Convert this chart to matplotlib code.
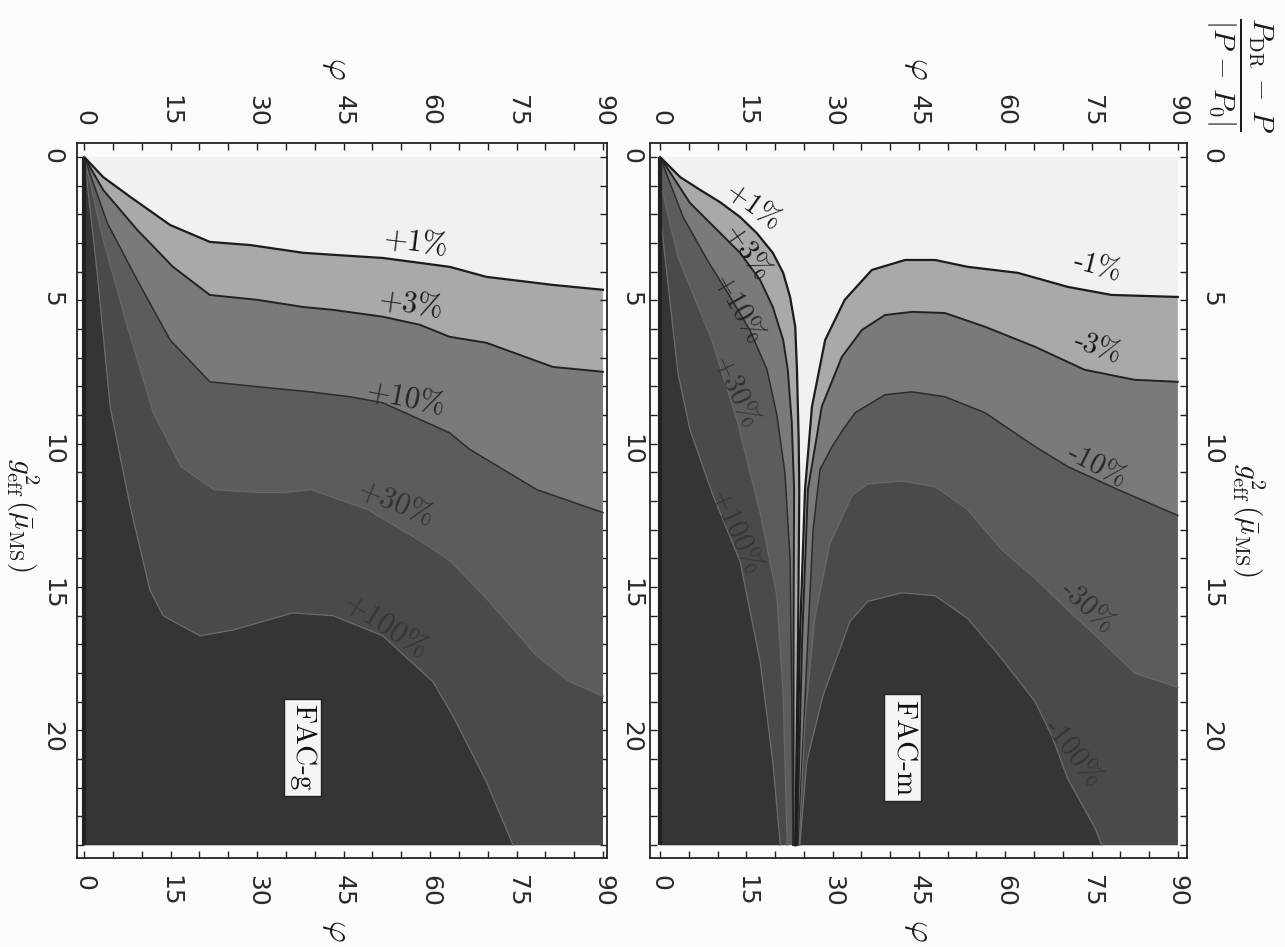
import numpy as np
import matplotlib
matplotlib.use("Agg")
import matplotlib.pyplot as plt

plt.rcParams["mathtext.fontset"] = "cm"

W, H = 1285, 947

# ---------------- data ----------------
PHI_MAX = 90
G2_MAX = 24
PHI_TICKS = [0, 15, 30, 45, 60, 75, 90]
G2_TICKS = [0, 5, 10, 15, 20]

BAND_COLORS = ["#a9a9a9", "#7a7a7a", "#5c5c5c", "#4a4a4a", "#353535"]
LINE_COLORS = ["#1c1c1c", "#222222", "#2c2c2c", "#686868", "#6c6c6c"]
LINE_WIDTHS = [1.6, 1.4, 1.1, 0.9, 0.9]

# FAC-g panel (left): contour curves g2_eff(phi)
FACG_P1_PHI = [0, 3.3, 8.0, 14.9, 21.8, 28.8, 38.0, 43.2, 51.8, 58.2, 63.4, 69.8, 81.3, 90]
FACG_P1_G2 = [0, 0.70, 1.39, 2.37, 2.96, 3.07, 3.34, 3.41, 3.52, 3.69, 3.83, 4.18, 4.46, 4.63]
FACG_P3_PHI = [0, 3.3, 9.2, 15.4, 21.8, 30.0, 38.0, 43.2, 51.8, 58.2, 63.4, 69.8, 81.3, 90]
FACG_P3_G2 = [0, 1.15, 2.54, 3.83, 4.81, 4.98, 5.23, 5.33, 5.57, 5.85, 6.27, 6.48, 7.32, 7.49]
FACG_P10_PHI = [0, 4.0, 9.2, 14.9, 21.8, 30.0, 39.2, 46.1, 51.8, 63.4, 66.9, 78.5, 90]
FACG_P10_G2 = [0, 2.30, 4.29, 6.38, 7.84, 8.01, 8.19, 8.36, 8.57, 9.62, 10.2, 11.6, 12.4]
FACG_P30_PHI = [0, 3.3, 7.5, 12.0, 16.8, 22.5, 30.2, 34.7, 39.4, 49.2, 58.4, 63.6, 69.8, 78.5, 84.2, 90]
FACG_P30_G2 = [0, 2.89, 5.92, 8.92, 10.8, 11.6, 11.7, 11.7, 11.6, 12.3, 13.4, 14.1, 15.4, 17.4, 18.3, 18.8]
FACG_P100_PHI = [0, 2.25, 4.5, 8.0, 11.4, 13.7, 20.1, 25.8, 36.2, 43.2, 51.8, 60.5, 64.0, 69.8, 74.4]
FACG_P100_G2 = [0, 4.04, 8.71, 12.2, 15.1, 16.0, 16.7, 16.5, 15.9, 16.0, 16.7, 18.3, 19.5, 21.8, 24.0]

# FAC-m panel (right): positive branch (small phi)
FACM_P1_PHI = [0, 3.5, 7.0, 10.4, 13.9, 16.8, 19.6, 21.4, 22.6, 23.5, 23.8, 24.1, 24.2, 24.0, 23.5]
FACM_P1_G2 = [0, 0.70, 1.15, 1.57, 2.09, 2.65, 3.34, 4.04, 4.88, 5.92, 7.42, 9.9, 11.6, 16.8, 24.0]
FACM_P3_PHI = [0, 5.2, 9.9, 13.9, 17.4, 19.6, 21.4, 22.2, 22.9, 23.3, 23.2, 23.2]
FACM_P3_G2 = [0, 1.6, 2.54, 3.34, 4.29, 5.23, 6.38, 7.42, 9.27, 11.6, 16.8, 24.0]
FACM_P10_PHI = [0, 4.0, 8.2, 12.2, 15.6, 18.6, 20.3, 21.7, 22.6, 22.9, 23.1]
FACM_P10_G2 = [0, 2.09, 3.59, 4.88, 6.03, 7.42, 9.0, 11.0, 14.0, 18.9, 24.0]
FACM_P30_PHI = [0, 0.35, 3.1, 9.0, 13.4, 17.4, 20.3, 21.4, 22.1]
FACM_P30_G2 = [0, 1.15, 3.48, 6.38, 9.2, 12.4, 15.3, 18.8, 24.0]
FACM_P100_PHI = [0, 0.2, 3.1, 5.2, 9.2, 13.9, 17.4, 19.6, 20.9]
FACM_P100_G2 = [0, 2.3, 7.53, 9.51, 11.8, 14.1, 17.6, 21.1, 24.0]

# FAC-m panel (right): negative branch (large phi)
FACM_M1_PHI = [23.6, 24.3, 25.2, 26.4, 28.7, 32.1, 36.8, 42.6, 47.8, 53.5, 62.2, 70.9, 78.5, 90]
FACM_M1_G2 = [24.0, 16.8, 11.6, 8.71, 6.38, 4.98, 3.94, 3.59, 3.59, 3.83, 4.04, 4.53, 4.81, 4.88]
FACM_M3_PHI = [23.8, 24.7, 25.7, 28.1, 31.6, 35.1, 39.1, 43.8, 49.5, 56.5, 65.2, 73.8, 82.5, 90]
FACM_M3_G2 = [24.0, 16.8, 11.6, 8.71, 6.97, 6.03, 5.51, 5.40, 5.44, 5.92, 6.62, 7.42, 7.77, 7.84]
FACM_M10_PHI = [24.0, 25.5, 26.6, 27.8, 29.9, 31.8, 33.9, 39.1, 43.8, 49.5, 56.5, 65.2, 70.9, 79.6, 90]
FACM_M10_G2 = [24.0, 17.6, 13.0, 10.9, 10.1, 9.51, 8.92, 8.29, 8.19, 8.36, 8.92, 10.1, 10.8, 11.6, 12.5]
FACM_M30_PHI = [24.2, 25.2, 26.9, 29.5, 33.4, 36.1, 42.1, 47.8, 53.5, 59.4, 65.2, 70.9, 76.8, 82.5, 90]
FACM_M30_G2 = [24.0, 19.6, 16.1, 13.5, 11.8, 11.4, 11.3, 11.5, 12.3, 13.7, 14.7, 15.8, 16.9, 18.0, 18.5]
FACM_M100_PHI = [24.3, 25.5, 28.3, 33.0, 36.1, 42.1, 47.8, 53.5, 59.4, 65.2, 68.1, 70.9, 75.6, 76.8]
FACM_M100_G2 = [24.0, 21.1, 18.8, 16.2, 15.5, 15.2, 15.3, 16.1, 17.5, 19.0, 20.2, 21.7, 23.4, 24.0]

FACG_CURVES = [(FACG_P1_PHI, FACG_P1_G2), (FACG_P3_PHI, FACG_P3_G2), (FACG_P10_PHI, FACG_P10_G2),
               (FACG_P30_PHI, FACG_P30_G2), (FACG_P100_PHI, FACG_P100_G2)]
FACM_POS = [(FACM_P1_PHI, FACM_P1_G2), (FACM_P3_PHI, FACM_P3_G2), (FACM_P10_PHI, FACM_P10_G2),
            (FACM_P30_PHI, FACM_P30_G2), (FACM_P100_PHI, FACM_P100_G2)]
FACM_NEG = [(FACM_M1_PHI, FACM_M1_G2), (FACM_M3_PHI, FACM_M3_G2), (FACM_M10_PHI, FACM_M10_G2),
            (FACM_M30_PHI, FACM_M30_G2), (FACM_M100_PHI, FACM_M100_G2)]

# contour labels: text, phi, g2, rotation
FACG_LABELS = [("+1%", 57.5, 3.0, -7), ("+3%", 56.7, 5.15, -8), ("+10%", 55.8, 8.45, -11),
               ("+30%", 53.9, 12.1, -22), ("+100%", 52.2, 16.4, -33)]
FACM_POS_LABELS = [("+1%", 16.2, 1.74, -35), ("+3%", 15.1, 3.34, -55), ("+10%", 13.5, 5.33, -60),
                   ("+30%", 13.0, 8.22, -65), ("+100%", 13.0, 13.1, -65)]
FACM_NEG_LABELS = [("-1%", 76.1, 3.83, -14), ("-3%", 76.1, 6.66, -18), ("-10%", 75.9, 10.8, -27),
                   ("-30%", 74.2, 15.7, -42), ("-100%", 71.8, 20.8, -52)]
LABEL_COLORS = ["#111111", "#1a1a1a", "#262626", "#333333", "#363636"]

PANEL_NAMES = ["FAC-g", "FAC-m"]

# ---------------- figure ----------------
fig = plt.figure(figsize=(W / 100, H / 100), dpi=100, facecolor="#fbfbfb")


def px_axes(x0, x1, y0, y1):
    return fig.add_axes([x0 / W, 1 - y1 / H, (x1 - x0) / W, (y1 - y0) / H])


axL = px_axes(77, 607, 143, 858)
axR = px_axes(650, 1187, 143, 858)
axL.set_xlim(-1.25, 90.7)
axR.set_xlim(-1.75, 91.6)
for ax in (axL, axR):
    ax.set_ylim(24.45, -0.49)
    ax.set_facecolor("#fbfbfb")
    ax.fill_between([0, PHI_MAX], 0, G2_MAX, color="#f1f1f1", lw=0, zorder=0)


def poly_left(phi, g2):
    xs, ys = list(phi), list(g2)
    if xs[-1] >= PHI_MAX:
        xs.append(PHI_MAX); ys.append(G2_MAX)
    xs.append(0); ys.append(G2_MAX)
    return xs, ys


def poly_right(phi, g2):
    xs, ys = list(phi), list(g2)
    if xs[-1] >= PHI_MAX:
        xs.append(PHI_MAX); ys.append(G2_MAX)
    return xs, ys


# FAC-g fills
for k, (phi, g2) in enumerate(FACG_CURVES):
    xs, ys = poly_left(phi, g2)
    axL.fill(xs, ys, color=BAND_COLORS[k], lw=0, zorder=1 + k)
for k, (phi, g2) in enumerate(FACG_CURVES):
    axL.plot(phi, g2, color=LINE_COLORS[k], lw=LINE_WIDTHS[k], zorder=10,
             solid_joinstyle="round")

# FAC-m fills
for k in range(5):
    xs, ys = poly_left(*FACM_POS[k])
    axR.fill(xs, ys, color=BAND_COLORS[k], lw=0, zorder=1 + k)
    xs, ys = poly_right(*FACM_NEG[k])
    axR.fill(xs, ys, color=BAND_COLORS[k], lw=0, zorder=1 + k)
for k in range(5):
    axR.plot(*FACM_POS[k], color=LINE_COLORS[k], lw=LINE_WIDTHS[k], zorder=10,
             solid_joinstyle="round")
    axR.plot(*FACM_NEG[k], color=LINE_COLORS[k], lw=LINE_WIDTHS[k], zorder=10,
             solid_joinstyle="round")

# darker strip along phi = 0
for ax in (axL, axR):
    ax.plot([0, 0], [0, G2_MAX], color="#222222", lw=3, zorder=11, solid_capstyle="butt")

# contour labels
for k, (t, p, g, r) in enumerate(FACG_LABELS):
    axL.text(p, g, t, rotation=r, ha="center", va="center", fontsize=22,
             family="cmr10", color=LABEL_COLORS[k], zorder=12)
for k, (t, p, g, r) in enumerate(FACM_POS_LABELS):
    axR.text(p, g, t, rotation=r, ha="center", va="center", fontsize=21,
             family="cmr10", color=LABEL_COLORS[k], zorder=12, rotation_mode="anchor")
for k, (t, p, g, r) in enumerate(FACM_NEG_LABELS):
    axR.text(p, g, t, rotation=r, ha="center", va="center", fontsize=21,
             family="cmr10", color=LABEL_COLORS[k], zorder=12)

# panel name boxes
axL.text(37.8, 20.6, PANEL_NAMES[0], rotation=-90, ha="center", va="center", fontsize=21,
         family="cmr10", color="#111111", zorder=15,
         bbox=dict(boxstyle="square,pad=0.18", fc="#f4f4f4", ec="#222222", lw=1.0))
axR.text(42.2, 20.6, PANEL_NAMES[1], rotation=-90, ha="center", va="center", fontsize=21,
         family="cmr10", color="#111111", zorder=15,
         bbox=dict(boxstyle="square,pad=0.18", fc="#f4f4f4", ec="#222222", lw=1.0))

# axes styling
for ax in (axL, axR):
    ax.set_xticks(PHI_TICKS)
    ax.set_xticks(np.arange(0, PHI_MAX + 1, 5), minor=True)
    ax.set_yticks(G2_TICKS)
    ax.set_yticks(np.arange(0, G2_MAX + 1, 1), minor=True)
    ax.tick_params(which="both", direction="in", top=True, bottom=True, left=True, right=True,
                   length=5, width=1.0, color="#222222")
    ax.tick_params(axis="x", labeltop=True, labelbottom=True, labelrotation=-90,
                   labelsize=18, pad=12, labelcolor="#2a2a2a")
    ax.tick_params(axis="y", labelrotation=-90, labelsize=18, pad=9, labelcolor="#2a2a2a")
    for s in ax.spines.values():
        s.set_linewidth(1.3)
        s.set_color("#222222")

axL.tick_params(axis="y", labelleft=True, labelright=True)
axR.tick_params(axis="y", labelleft=False, labelright=True)


# axis titles
def ftext(x, y, s, **kw):
    fig.text(x / W, 1 - y / H, s, ha="center", va="center", rotation=-90, color="#1a1a1a", **kw)


ftext(1240, 75, r"$\frac{P_{\rm DR}\,-\,P}{|P\,-\,P_0|}$", fontsize=30)
ftext(22, 515, r"$g^2_{\rm eff}\,(\bar{\mu}_{\rm MS})$", fontsize=21)
ftext(1248, 520, r"$g^2_{\rm eff}\,(\bar{\mu}_{\rm MS})$", fontsize=21)
for xp in (337, 918):
    ftext(xp, 68, r"$\varphi$", fontsize=24)
    ftext(xp, 930, r"$\varphi$", fontsize=24)

fig.savefig("out.png", dpi=100, facecolor=fig.get_facecolor())
